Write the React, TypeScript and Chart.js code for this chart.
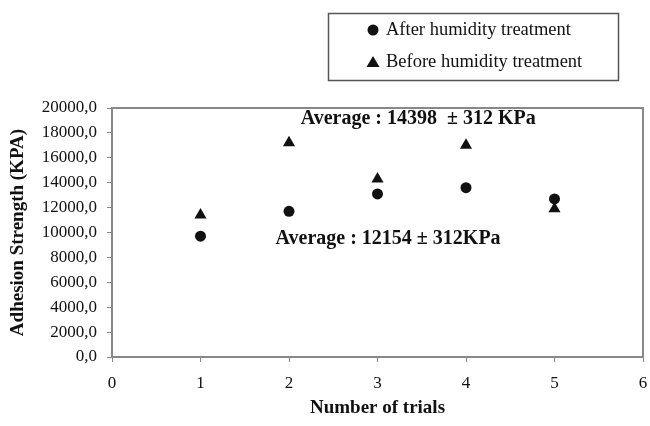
import React, { useEffect, useRef } from "react";
import { Chart, registerables } from "chart.js";

Chart.register(...registerables);

// Adhesion strength per trial (KPa)
const TRIALS = [1, 2, 3, 4, 5];
const AFTER_HUMIDITY = [9700, 11700, 13100, 13600, 12700];
const BEFORE_HUMIDITY = [11400, 17200, 14300, 17000, 11900];

const X_TICKS = [0, 1, 2, 3, 4, 5, 6];
const Y_TICKS = [0, 2000, 4000, 6000, 8000, 10000, 12000, 14000, 16000, 18000, 20000];

const SERIES_NAMES = ["After humidity treatment", "Before humidity treatment"];
const AVERAGE_BEFORE_TEXT = "Average : 14398  \u00b1 312 KPa";
const AVERAGE_AFTER_TEXT = "Average : 12154 \u00b1 312KPa";

const SERIF = "'Liberation Serif', 'Times New Roman', serif";
const AXIS_GREY = "#888888";

// Plot frame on all four sides
const framePlugin = {
  id: "frame",
  afterDatasetsDraw(chart: any) {
    const { ctx, chartArea } = chart;
    ctx.save();
    ctx.strokeStyle = AXIS_GREY;
    ctx.lineWidth = 2;
    ctx.strokeRect(chartArea.left, chartArea.top, chartArea.right - chartArea.left, chartArea.bottom - chartArea.top);
    ctx.restore();
  },
};

// Averages written inside the plot, anchored on data coordinates
const averagesPlugin = {
  id: "averages",
  afterDraw(chart: any) {
    const { ctx, scales } = chart;
    const x = scales.x;
    const y = scales.y;
    ctx.save();
    ctx.fillStyle = "#111";
    ctx.font = `bold 20px ${SERIF}`;
    ctx.textAlign = "center";
    ctx.textBaseline = "middle";
    ctx.fillText(AVERAGE_BEFORE_TEXT, x.getPixelForValue(3.46), y.getPixelForValue(19120));
    ctx.fillText(AVERAGE_AFTER_TEXT, x.getPixelForValue(3.12), y.getPixelForValue(9480));
    ctx.restore();
  },
};

// Boxed legend above the plot
const boxLegendPlugin = {
  id: "boxLegend",
  afterDraw(chart: any) {
    const { ctx } = chart;
    ctx.save();
    ctx.strokeStyle = "#555";
    ctx.lineWidth = 1.5;
    ctx.strokeRect(328.5, 13.5, 290, 67);
    ctx.fillStyle = "#111";
    // circle marker
    ctx.beginPath();
    ctx.arc(373, 30, 5.5, 0, Math.PI * 2);
    ctx.fill();
    // triangle marker
    ctx.beginPath();
    ctx.moveTo(373, 56);
    ctx.lineTo(379.5, 67);
    ctx.lineTo(366.5, 67);
    ctx.closePath();
    ctx.fill();
    ctx.font = `18.5px ${SERIF}`;
    ctx.textAlign = "left";
    ctx.textBaseline = "middle";
    ctx.fillText(SERIES_NAMES[0], 386, 30);
    ctx.fillText(SERIES_NAMES[1], 386, 62);
    ctx.restore();
  },
};

export default function App() {
  const canvasRef = useRef<HTMLCanvasElement | null>(null);

  useEffect(() => {
    document.body.style.margin = "0";
    const canvas = canvasRef.current;
    if (!canvas) return;

    const chart = new Chart(canvas, {
      type: "scatter",
      data: {
        datasets: [
          {
            label: SERIES_NAMES[0],
            data: TRIALS.map((t, i) => ({ x: t, y: AFTER_HUMIDITY[i] })),
            pointStyle: "circle",
            pointRadius: 5.5,
            backgroundColor: "#111",
            borderColor: "#111",
            borderWidth: 0,
          },
          {
            label: SERIES_NAMES[1],
            data: TRIALS.map((t, i) => ({ x: t, y: BEFORE_HUMIDITY[i] })),
            pointStyle: "triangle",
            pointRadius: 7,
            backgroundColor: "#111",
            borderColor: "#111",
            borderWidth: 0,
          },
        ],
      },
      options: {
        responsive: false,
        animation: false,
        events: [],
        layout: { padding: { top: 108, right: 5, bottom: 0, left: 0 } },
        plugins: {
          legend: { display: false },
          tooltip: { enabled: false },
        },
        scales: {
          x: {
            type: "linear",
            min: 0,
            max: 6,
            afterBuildTicks: (scale: any) => {
              scale.ticks = X_TICKS.map((v) => ({ value: v }));
            },
            afterFit: (scale: any) => {
              scale.height = 69;
              scale.paddingLeft = 0;
              scale.paddingRight = 0;
            },
            grid: { drawOnChartArea: false, drawTicks: true, tickLength: 5, color: AXIS_GREY },
            border: { display: true, color: AXIS_GREY, width: 2 },
            ticks: {
              color: "#111",
              padding: 11,
              font: { family: SERIF, size: 17 },
              callback: (v: any) => String(v),
            },
            title: {
              display: true,
              text: "Number of trials",
              color: "#111",
              font: { family: SERIF, size: 19, weight: "bold" },
              padding: { top: 0, bottom: 7 },
            },
          },
          y: {
            type: "linear",
            min: 0,
            max: 20000,
            afterBuildTicks: (scale: any) => {
              scale.ticks = Y_TICKS.map((v) => ({ value: v }));
            },
            afterFit: (scale: any) => {
              scale.width = 112;
              scale.paddingTop = 0;
              scale.paddingBottom = 0;
            },
            grid: { drawOnChartArea: false, drawTicks: true, tickLength: 5, color: AXIS_GREY },
            border: { display: true, color: AXIS_GREY, width: 2 },
            ticks: {
              color: "#111",
              padding: 10,
              font: { family: SERIF, size: 17 },
              callback: (v: any) => Number(v).toFixed(1).replace(".", ","),
            },
            title: {
              display: true,
              text: "Adhesion Strength (KPA)",
              color: "#111",
              font: { family: SERIF, size: 19, weight: "bold" },
              padding: { top: 7, bottom: 0 },
            },
          },
        },
      },
      plugins: [framePlugin, averagesPlugin, boxLegendPlugin],
    } as any);

    return () => chart.destroy();
  }, []);

  return (
    <div style={{ width: 650, height: 426 }}>
      <canvas ref={canvasRef} width={650} height={426} />
    </div>
  );
}
